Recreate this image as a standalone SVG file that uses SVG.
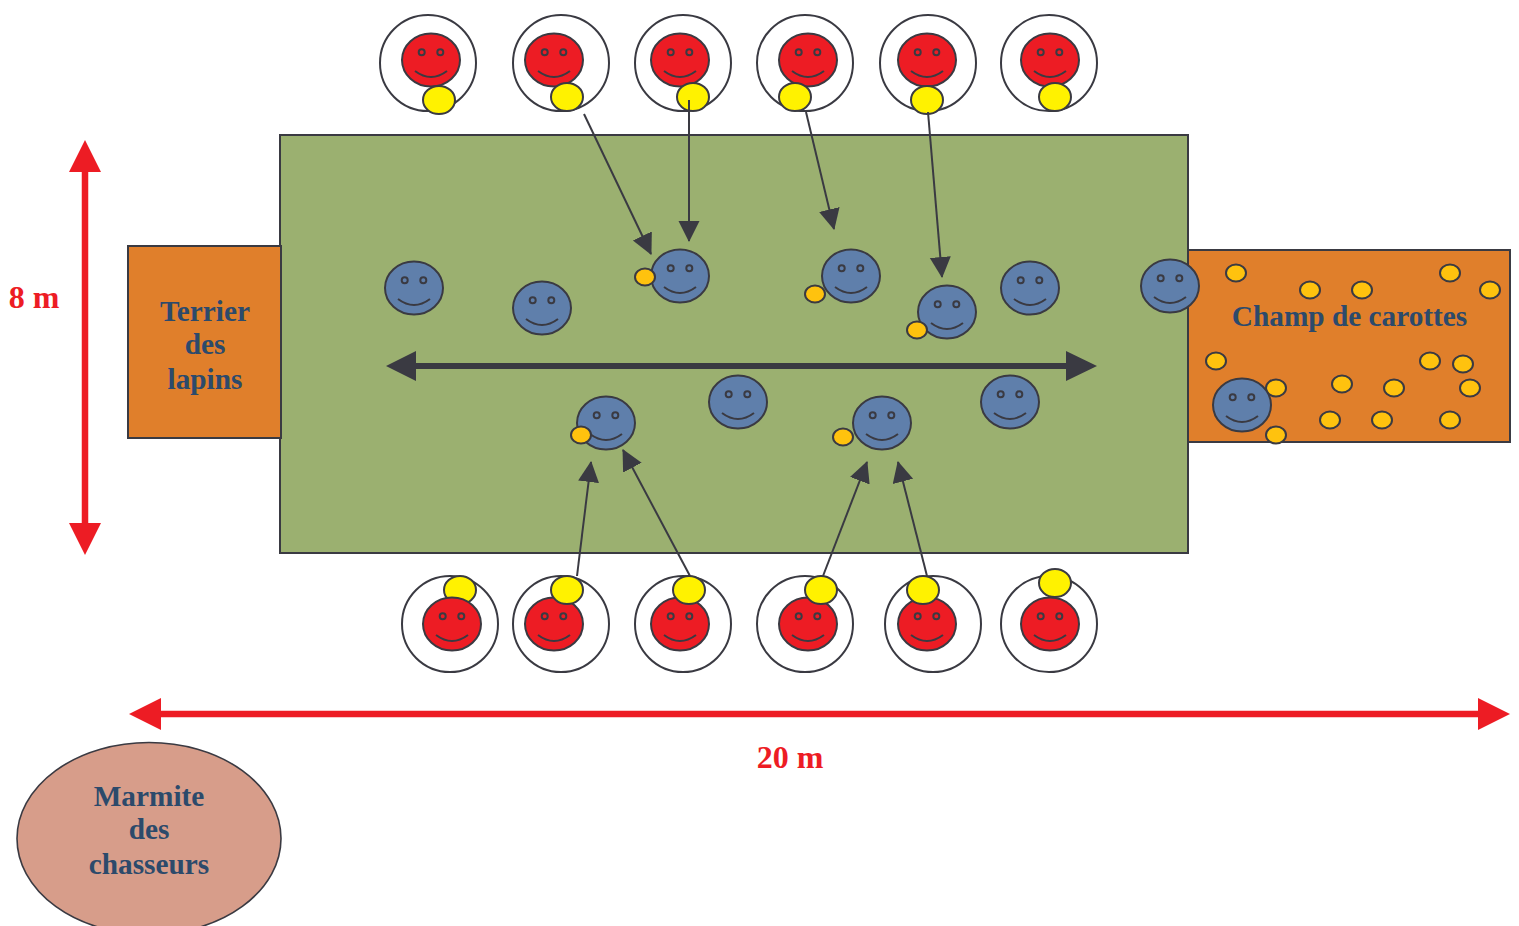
<svg xmlns="http://www.w3.org/2000/svg" xmlns:xlink="http://www.w3.org/1999/xlink" width="1519" height="926" viewBox="0 0 1519 926">
<style>
.o{stroke:#3a3a42;stroke-width:2}
.t{font-family:"Liberation Serif","Times New Roman",serif;font-weight:bold;font-size:29.3px;fill:#2c4a6b;text-anchor:middle}
.m{fill:#ed1c24;font-size:32px}
.ring{fill:#fff;stroke:#3a3a42;stroke-width:2}
.y{fill:#fff200;stroke:#3a3a42;stroke-width:2}
.c{fill:#ffc20e;stroke:#3a3a42;stroke-width:2}
.l{fill:none;stroke:#3a3a42;stroke-width:2}
.f{fill:none;stroke:#3a3a42;stroke-width:2}
</style>
<defs>
<g id="face"><circle cx="-9.3" cy="-7.7" r="3" class="f"/><circle cx="9.3" cy="-7.7" r="3" class="f"/><path d="M-16 11Q0 23 16 11" class="f"/></g>
<g id="rs"><ellipse rx="29" ry="26.5" fill="#ed1c24" class="o"/><use xlink:href="#face" href="#face"/></g>
<g id="bs"><ellipse rx="29" ry="26.5" fill="#5f7fab" class="o"/><use xlink:href="#face" href="#face"/></g>
<marker id="ah" markerUnits="userSpaceOnUse" markerWidth="22" markerHeight="22" refX="20" refY="10.5" orient="auto"><path d="M0 0L21 10.5L0 21Z" fill="#3a3a42"/></marker>
</defs>
<g id="terrain"><rect x="280" y="135" width="908" height="418" fill="#9bb070" class="o"/></g>
<g id="terrier"><rect x="128" y="246" width="153" height="192" fill="#e07f2b" class="o"/>
<text class="t" x="205" y="321">Terrier</text><text class="t" x="205" y="354">des</text><text class="t" x="205" y="389">lapins</text></g>
<g id="champ"><rect x="1188" y="250" width="322" height="192" fill="#e07f2b" class="o"/>
<text class="t" x="1349.5" y="325.5">Champ de carottes</text>
<g id="carottes">
<ellipse class="c" cx="1236" cy="273" rx="10" ry="8.5"/><ellipse class="c" cx="1310" cy="290" rx="10" ry="8.5"/><ellipse class="c" cx="1362" cy="290" rx="10" ry="8.5"/><ellipse class="c" cx="1450" cy="273" rx="10" ry="8.5"/><ellipse class="c" cx="1490" cy="290" rx="10" ry="8.5"/><ellipse class="c" cx="1216" cy="361" rx="10" ry="8.5"/><ellipse class="c" cx="1276" cy="388" rx="10" ry="8.5"/><ellipse class="c" cx="1342" cy="384" rx="10" ry="8.5"/><ellipse class="c" cx="1394" cy="388" rx="10" ry="8.5"/><ellipse class="c" cx="1430" cy="361" rx="10" ry="8.5"/><ellipse class="c" cx="1463" cy="364" rx="10" ry="8.5"/><ellipse class="c" cx="1470" cy="388" rx="10" ry="8.5"/><ellipse class="c" cx="1330" cy="420" rx="10" ry="8.5"/><ellipse class="c" cx="1382" cy="420" rx="10" ry="8.5"/><ellipse class="c" cx="1450" cy="420" rx="10" ry="8.5"/><ellipse class="c" cx="1276" cy="435" rx="10" ry="8.5"/>
</g></g>
<g id="marmite"><ellipse cx="149" cy="838.5" rx="132" ry="96" fill="#d79d8a" class="o" style="stroke-width:1.6"/>
<text class="t" x="149" y="806">Marmite</text><text class="t" x="149" y="839">des</text><text class="t" x="149" y="874">chasseurs</text></g>
<g id="chasseurs-haut">
<g id="ch1"><circle class="ring" cx="428" cy="63" r="48"/><use href="#rs" x="431" y="60"/><ellipse class="y" cx="439" cy="100" rx="16" ry="14"/></g>
<g id="ch2"><circle class="ring" cx="561" cy="63" r="48"/><use href="#rs" x="554" y="60"/><ellipse class="y" cx="567" cy="97" rx="16" ry="14"/></g>
<g id="ch3"><circle class="ring" cx="683" cy="63" r="48"/><use href="#rs" x="680" y="60"/><ellipse class="y" cx="693" cy="97" rx="16" ry="14"/></g>
<g id="ch4"><circle class="ring" cx="805" cy="63" r="48"/><use href="#rs" x="808" y="60"/><ellipse class="y" cx="795" cy="97" rx="16" ry="14"/></g>
<g id="ch5"><circle class="ring" cx="928" cy="63" r="48"/><use href="#rs" x="927" y="60"/><ellipse class="y" cx="927" cy="100" rx="16" ry="14"/></g>
<g id="ch6"><circle class="ring" cx="1049" cy="63" r="48"/><use href="#rs" x="1050" y="60"/><ellipse class="y" cx="1055" cy="97" rx="16" ry="14"/></g>
</g>
<g id="chasseurs-bas">
<g id="cb1"><circle class="ring" cx="450" cy="624" r="48"/><ellipse class="y" cx="460" cy="590" rx="16" ry="14"/><use href="#rs" x="452" y="624"/></g>
<g id="cb2"><circle class="ring" cx="561" cy="624" r="48"/><use href="#rs" x="554" y="624"/><ellipse class="y" cx="567" cy="590" rx="16" ry="14"/></g>
<g id="cb3"><circle class="ring" cx="683" cy="624" r="48"/><use href="#rs" x="680" y="624"/><ellipse class="y" cx="689" cy="590" rx="16" ry="14"/></g>
<g id="cb4"><circle class="ring" cx="805" cy="624" r="48"/><use href="#rs" x="808" y="624"/><ellipse class="y" cx="821" cy="590" rx="16" ry="14"/></g>
<g id="cb5"><circle class="ring" cx="933" cy="624" r="48"/><use href="#rs" x="927" y="624"/><ellipse class="y" cx="923" cy="590" rx="16" ry="14"/></g>
<g id="cb6"><circle class="ring" cx="1049" cy="624" r="48"/><use href="#rs" x="1050" y="624"/><ellipse class="y" cx="1055" cy="583" rx="16" ry="14"/></g>
</g>
<g id="lapins">
<g id="l1"><use href="#bs" x="414" y="288"/></g>
<g id="l2"><use href="#bs" x="542" y="308"/></g>
<g id="l3"><use href="#bs" x="680" y="276"/><ellipse class="c" cx="645" cy="277" rx="10" ry="8.5"/></g>
<g id="l4"><use href="#bs" x="851" y="276"/><ellipse class="c" cx="815" cy="294" rx="10" ry="8.5"/></g>
<g id="l5"><use href="#bs" x="947" y="312"/><ellipse class="c" cx="917" cy="330" rx="10" ry="8.5"/></g>
<g id="l6"><use href="#bs" x="1030" y="288"/></g>
<g id="l7"><use href="#bs" x="1170" y="286"/></g>
<g id="l8"><use href="#bs" x="606" y="423"/><ellipse class="c" cx="581" cy="435" rx="10" ry="8.5"/></g>
<g id="l9"><use href="#bs" x="738" y="402"/></g>
<g id="l10"><use href="#bs" x="882" y="423"/><ellipse class="c" cx="843" cy="437" rx="10" ry="8.5"/></g>
<g id="l11"><use href="#bs" x="1010" y="402"/></g>
<g id="l12"><use href="#bs" x="1242" y="405"/></g>
</g>
<g id="connectors">
<path class="l" marker-end="url(#ah)" d="M584 114L651 254"/>
<path class="l" marker-end="url(#ah)" d="M689 100L689 241"/>
<path class="l" marker-end="url(#ah)" d="M806 112L834 229"/>
<path class="l" marker-end="url(#ah)" d="M928 112L942 277"/>
<path class="l" marker-end="url(#ah)" d="M577 576L591 462"/>
<path class="l" marker-end="url(#ah)" d="M690 576L623 450"/>
<path class="l" marker-end="url(#ah)" d="M823 576L867 462"/>
<path class="l" marker-end="url(#ah)" d="M927 576L898 462"/>
<g id="fleche-noire"><path d="M410 366H1072" stroke="#3a3a42" stroke-width="6"/><path d="M386 366L416 351V381Z M1097 366L1066 351V381Z" fill="#3a3a42"/></g>
<g id="fleche-8m"><path d="M85 165V530" stroke="#ed1c24" stroke-width="6.5"/><path d="M85 140L101 172H69Z M85 555L101 523H69Z" fill="#ed1c24"/></g>
<g id="fleche-20m"><path d="M155 714H1484" stroke="#ed1c24" stroke-width="6.5"/><path d="M129 714L161 698V730Z M1510 714L1478 698V730Z" fill="#ed1c24"/></g>
</g>
<text class="t m" x="34" y="308">8 m</text>
<text class="t m" x="790" y="768">20 m</text>
</svg>
